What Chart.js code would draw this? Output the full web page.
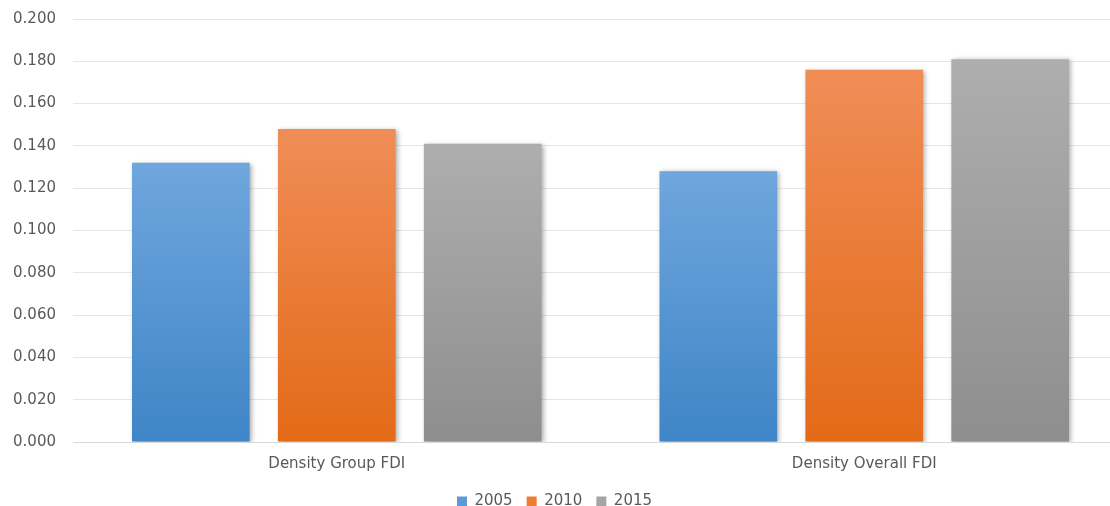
<!DOCTYPE html>
<html>
<head>
<meta charset="utf-8">
<script src="https://cdn.jsdelivr.net/npm/chart.js@4/dist/chart.umd.min.js"></script>
<style>
  html, body { margin: 0; padding: 0; background: #fff; overflow: hidden; }
  #wrap { position: relative; width: 1130px; height: 506px; }
</style>
</head>
<body>
<div id="wrap"><canvas id="c"></canvas></div>
<script>
const categories = ['Density Group FDI', 'Density Overall FDI'];
const seriesNames = ['2005', '2010', '2015'];
const values2005 = [0.132, 0.128];
const values2010 = [0.148, 0.176];
const values2015 = [0.141, 0.181];
const yTicks = [0.000, 0.020, 0.040, 0.060, 0.080, 0.100, 0.120, 0.140, 0.160, 0.180, 0.200];

const gradStops = [
  ['#6FA6DD', '#3F85C7'],
  ['#F08D57', '#E36A17'],
  ['#AEAEAE', '#8E8E8E']
];
const legendColors = ['#5B9BD5', '#ED7D31', '#A5A5A5'];

function barFill(idx) {
  return function(ctx) {
    const chart = ctx.chart;
    const ys = chart.scales.y;
    if (!ys || ctx.type !== 'data' || !ctx.parsed) return legendColors[idx];
    const top = ys.getPixelForValue(ctx.parsed.y);
    const base = ys.getPixelForValue(0);
    if (!isFinite(top) || !isFinite(base) || top === base) return legendColors[idx];
    const g = chart.ctx.createLinearGradient(0, top, 0, base);
    g.addColorStop(0, gradStops[idx][0]);
    g.addColorStop(1, gradStops[idx][1]);
    return g;
  };
}

const allSeries = [values2005, values2010, values2015];
const datasets = allSeries.map((vals, i) => ({
  label: seriesNames[i],
  data: vals,
  backgroundColor: barFill(i),
  borderWidth: 0,
  categoryPercentage: 0.83,
  barPercentage: 0.806
}));

const shadowPlugin = {
  id: 'barShadow',
  beforeDatasetsDraw(chart) {
    const c = chart.ctx;
    c.save();
    c.shadowColor = 'rgba(0,0,0,0.35)';
    c.shadowBlur = 5;
    c.shadowOffsetX = 2;
    c.shadowOffsetY = 1;
  },
  afterDatasetsDraw(chart) {
    chart.ctx.restore();
  }
};

const legendShift = {
  id: 'legendShift',
  afterLayout(chart) {
    const lg = chart.legend;
    if (!lg) return;
    lg.left -= 16; lg.right -= 16;
    lg.top += 7; lg.bottom += 7;
  }
};

new Chart(document.getElementById('c'), {
  type: 'bar',
  data: { labels: categories, datasets },
  plugins: [shadowPlugin, legendShift],
  options: {
    responsive: true,
    maintainAspectRatio: false,
    animation: false,
    layout: { padding: { left: 13, right: 2, top: 19, bottom: -6 } },
    plugins: {
      legend: {
        position: 'bottom',
        labels: {
          generateLabels(chart) {
            return seriesNames.map((n, i) => ({
              text: n, fillStyle: legendColors[i], strokeStyle: legendColors[i],
              lineWidth: 0, datasetIndex: i, fontColor: '#595959'
            }));
          },
          boxWidth: 10, boxHeight: 10, padding: 14,
          color: '#595959',
          font: { family: 'DejaVu Sans', size: 15 }
        }
      },
      tooltip: { enabled: false }
    },
    scales: {
      x: {
        grid: { display: false, drawTicks: false },
        border: { display: true, color: '#D9D9D9', width: 1 },
        ticks: { color: '#595959', font: { family: 'DejaVu Sans', size: 15 }, padding: 13 },
        afterFit(axis) { axis.height = 31; axis.paddingLeft = 0; axis.paddingRight = 0; }
      },
      y: {
        min: 0, max: 0.2,
        afterBuildTicks(axis) { axis.ticks = yTicks.map(v => ({ value: v })); },
        grid: { color: '#E6E6E6', lineWidth: 1, drawTicks: false },
        border: { display: false },
        ticks: {
          color: '#595959', font: { family: 'DejaVu Sans', size: 15 }, padding: 17,
          callback: v => Number(v).toFixed(3)
        },
        afterFit(axis) { axis.width = 60; axis.paddingTop = 0; axis.paddingBottom = 0; }
      }
    }
  }
});
</script>
</body>
</html>
